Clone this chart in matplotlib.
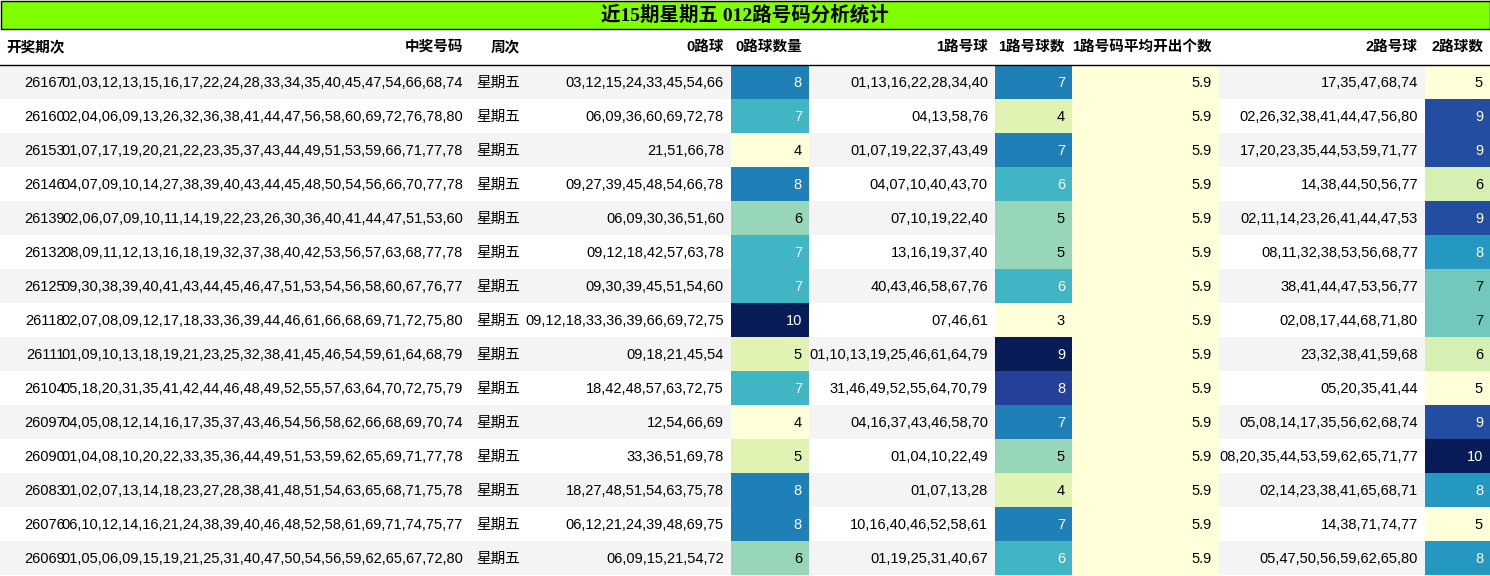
import numpy as np
import matplotlib.pyplot as plt
from matplotlib.patches import Rectangle

plt.rcParams['font.family'] = ['Liberation Sans', 'Noto Sans CJK SC', 'DejaVu Sans']

title = "近15期星期五 012路号码分析统计"
headers = ["开奖期次", "中奖号码", "周次", "0路球", "0路球数量", "1路号球", "1路号球数", "1路号码平均开出个数", "2路号球", "2路球数"]

issues = ["26167", "26160", "26153", "26146", "26139", "26132", "26125", "26118",
          "26111", "26104", "26097", "26090", "26083", "26076", "26069"]
draws = [
    "01,03,12,13,15,16,17,22,24,28,33,34,35,40,45,47,54,66,68,74",
    "02,04,06,09,13,26,32,36,38,41,44,47,56,58,60,69,72,76,78,80",
    "01,07,17,19,20,21,22,23,35,37,43,44,49,51,53,59,66,71,77,78",
    "04,07,09,10,14,27,38,39,40,43,44,45,48,50,54,56,66,70,77,78",
    "02,06,07,09,10,11,14,19,22,23,26,30,36,40,41,44,47,51,53,60",
    "08,09,11,12,13,16,18,19,32,37,38,40,42,53,56,57,63,68,77,78",
    "09,30,38,39,40,41,43,44,45,46,47,51,53,54,56,58,60,67,76,77",
    "02,07,08,09,12,17,18,33,36,39,44,46,61,66,68,69,71,72,75,80",
    "01,09,10,13,18,19,21,23,25,32,38,41,45,46,54,59,61,64,68,79",
    "05,18,20,31,35,41,42,44,46,48,49,52,55,57,63,64,70,72,75,79",
    "04,05,08,12,14,16,17,35,37,43,46,54,56,58,62,66,68,69,70,74",
    "01,04,08,10,20,22,33,35,36,44,49,51,53,59,62,65,69,71,77,78",
    "01,02,07,13,14,18,23,27,28,38,41,48,51,54,63,65,68,71,75,78",
    "06,10,12,14,16,21,24,38,39,40,46,48,52,58,61,69,71,74,75,77",
    "01,05,06,09,15,19,21,25,31,40,47,50,54,56,59,62,65,67,72,80",
]
weekday = ["星期五"] * 15
road0 = ["03,12,15,24,33,45,54,66", "06,09,36,60,69,72,78", "21,51,66,78", "09,27,39,45,48,54,66,78",
         "06,09,30,36,51,60", "09,12,18,42,57,63,78", "09,30,39,45,51,54,60", "09,12,18,33,36,39,66,69,72,75",
         "09,18,21,45,54", "18,42,48,57,63,72,75", "12,54,66,69", "33,36,51,69,78",
         "18,27,48,51,54,63,75,78", "06,12,21,24,39,48,69,75", "06,09,15,21,54,72"]
road0_n = [8, 7, 4, 8, 6, 7, 7, 10, 5, 7, 4, 5, 8, 8, 6]
road1 = ["01,13,16,22,28,34,40", "04,13,58,76", "01,07,19,22,37,43,49", "04,07,10,40,43,70",
         "07,10,19,22,40", "13,16,19,37,40", "40,43,46,58,67,76", "07,46,61",
         "01,10,13,19,25,46,61,64,79", "31,46,49,52,55,64,70,79", "04,16,37,43,46,58,70", "01,04,10,22,49",
         "01,07,13,28", "10,16,40,46,52,58,61", "01,19,25,31,40,67"]
road1_n = [7, 4, 7, 6, 5, 5, 6, 3, 9, 8, 7, 5, 4, 7, 6]
road1_avg = [5.9] * 15
road2 = ["17,35,47,68,74", "02,26,32,38,41,44,47,56,80", "17,20,23,35,44,53,59,71,77", "14,38,44,50,56,77",
         "02,11,14,23,26,41,44,47,53", "08,11,32,38,53,56,68,77", "38,41,44,47,53,56,77", "02,08,17,44,68,71,80",
         "23,32,38,41,59,68", "05,20,35,41,44", "05,08,14,17,35,56,62,68,74", "08,20,35,44,53,59,62,65,71,77",
         "02,14,23,38,41,65,68,71", "14,38,71,74,77", "05,47,50,56,59,62,65,80"]
road2_n = [5, 9, 9, 6, 9, 8, 7, 7, 6, 5, 9, 10, 8, 5, 8]

columns = [issues, draws, weekday, road0, road0_n, road1, road1_n, road1_avg, road2, road2_n]
edges = [0, 72, 470, 527, 731, 809, 995, 1072, 1219, 1425, 1490]
grad_cols = {4, 6, 7, 9}
cmap = plt.get_cmap('YlGnBu')

W, H = 1490, 576
fig = plt.figure(figsize=(W / 100, H / 100), dpi=100)
ax = fig.add_axes([0, 0, 1, 1])
ax.set_xlim(0, W)
ax.set_ylim(H, 0)
ax.axis('off')

# title band
ax.add_patch(Rectangle((0.5, 0.5), W - 1, 28.5, facecolor='#7fff00', edgecolor='black', lw=1))
ax.text(W / 2, 15, title, ha='center', va='center', fontsize=14, fontweight='bold',
        family=['Liberation Serif', 'Noto Sans CJK SC'])

# header
hy = 47
for j, h in enumerate(headers):
    ax.text(edges[j + 1] - 7, hy, h, ha='right', va='center', fontsize=10.5, fontweight='bold')
ax.plot([0, W], [64.5, 64.5], color='black', lw=1)

row_h = 34
y0 = 65
for i in range(15):
    top = y0 + i * row_h
    bg = '#f4f4f4' if i % 2 == 0 else 'white'
    ax.add_patch(Rectangle((0, top), W, row_h, facecolor=bg, edgecolor='none'))
    for j, col in enumerate(columns):
        val = col[i]
        tc = 'black'
        if j in grad_cols:
            vals = np.array(col, dtype=float)
            lo, hi = vals.min(), vals.max()
            t = 0.0 if hi == lo else (val - lo) / (hi - lo)
            rgba = cmap(t)
            ax.add_patch(Rectangle((edges[j], top), edges[j + 1] - edges[j], row_h,
                                   facecolor=rgba, edgecolor='none'))
            r, g, b = [c / 12.92 if c <= 0.04045 else ((c + 0.055) / 1.055) ** 2.4 for c in rgba[:3]]
            if 0.2126 * r + 0.7152 * g + 0.0722 * b < 0.408:
                tc = 'white'
        ax.text(edges[j + 1] - 7, top + row_h / 2 + 1, str(val), ha='right', va='center',
                fontsize=10.5, color=tc)

fig.savefig('out.png', dpi=100)
